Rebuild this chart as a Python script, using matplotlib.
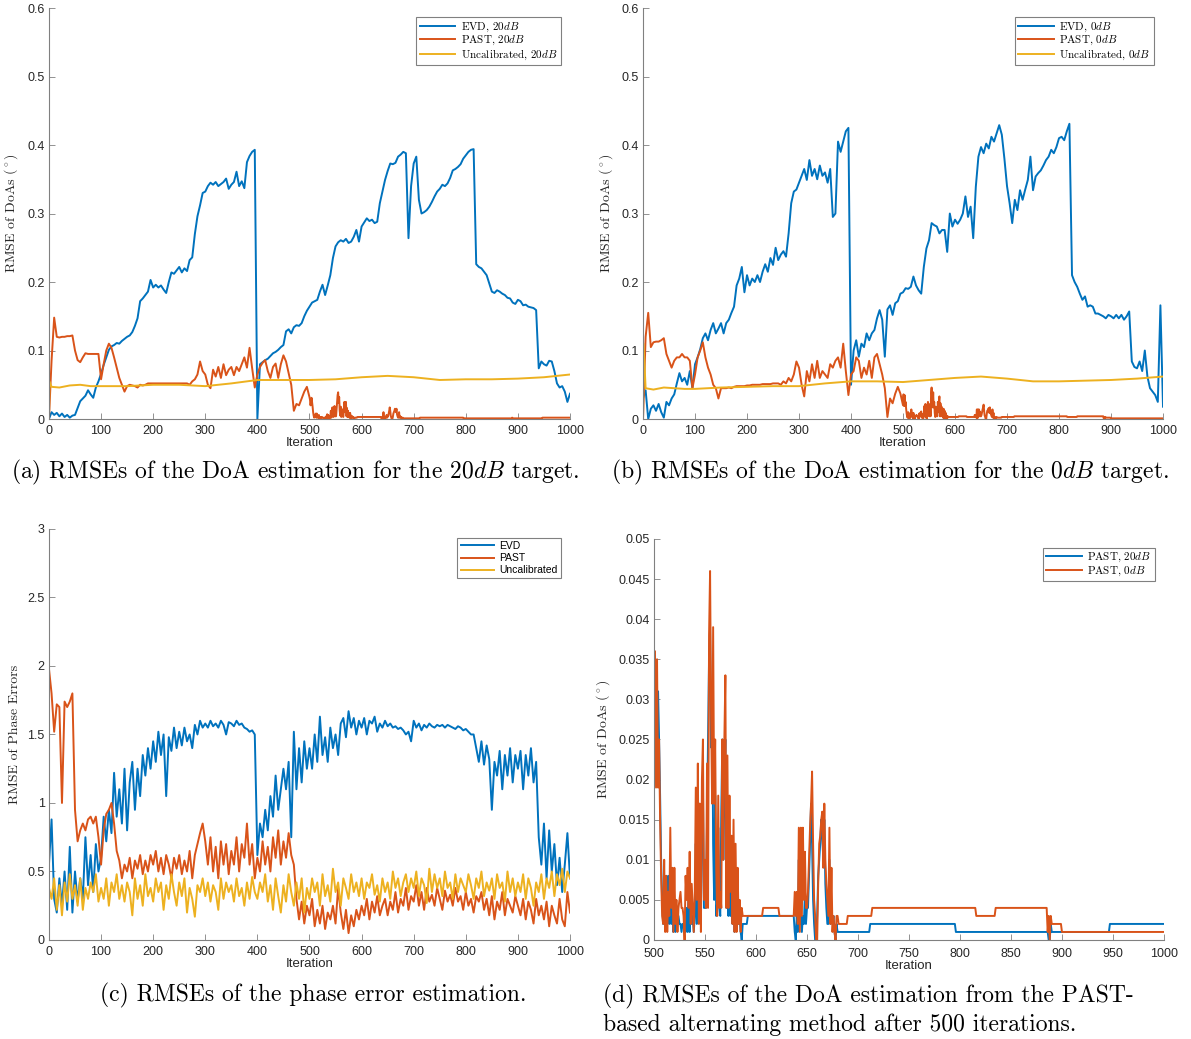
# RMSE curves of the DoA / phase error estimation, four panels with captions

import numpy as np
import matplotlib
matplotlib.use('Agg')
import matplotlib.pyplot as plt
from matplotlib.ticker import FuncFormatter

plt.rcParams['font.family'] = 'Liberation Sans'
plt.rcParams['mathtext.fontset'] = 'cm'

# matlab default colours
blue = '#0072BD'
red = '#D95319'
yellow = '#EDB120'

# ---------------- data ----------------
# iterations 0, 5, ..., 1000 (one row = 50 iterations)
iters = np.arange(0, 1001, 5)

evd_20db = [
    0.000, 0.010, 0.006, 0.009, 0.004, 0.008, 0.003, 0.006, 0.002, 0.005,
    0.006, 0.016, 0.026, 0.030, 0.034, 0.042, 0.036, 0.031, 0.046, 0.055,
    0.066, 0.079, 0.090, 0.101, 0.106, 0.108, 0.111, 0.110, 0.114, 0.117,
    0.120, 0.122, 0.127, 0.136, 0.147, 0.172, 0.176, 0.181, 0.186, 0.203,
    0.192, 0.196, 0.192, 0.195, 0.189, 0.184, 0.200, 0.214, 0.212, 0.217,
    0.222, 0.214, 0.220, 0.216, 0.232, 0.236, 0.270, 0.296, 0.312, 0.330,
    0.332, 0.340, 0.345, 0.342, 0.346, 0.340, 0.343, 0.346, 0.351, 0.336,
    0.342, 0.346, 0.361, 0.340, 0.347, 0.337, 0.375, 0.384, 0.390, 0.393,
    0.000, 0.080, 0.083, 0.086, 0.088, 0.092, 0.096, 0.098, 0.101, 0.105,
    0.108, 0.128, 0.131, 0.125, 0.134, 0.137, 0.136, 0.140, 0.150, 0.158,
    0.164, 0.170, 0.172, 0.174, 0.186, 0.196, 0.181, 0.195, 0.210, 0.235,
    0.252, 0.258, 0.261, 0.259, 0.263, 0.257, 0.259, 0.266, 0.276, 0.259,
    0.281, 0.287, 0.293, 0.289, 0.291, 0.286, 0.288, 0.315, 0.332, 0.349,
    0.362, 0.373, 0.372, 0.374, 0.383, 0.386, 0.390, 0.388, 0.264, 0.340,
    0.373, 0.383, 0.320, 0.300, 0.302, 0.305, 0.310, 0.317, 0.325, 0.332,
    0.336, 0.342, 0.340, 0.344, 0.352, 0.363, 0.365, 0.368, 0.372, 0.380,
    0.385, 0.390, 0.393, 0.394, 0.226, 0.222, 0.220, 0.215, 0.210, 0.198,
    0.186, 0.184, 0.188, 0.186, 0.183, 0.181, 0.177, 0.176, 0.170, 0.168,
    0.174, 0.172, 0.166, 0.167, 0.164, 0.163, 0.162, 0.159, 0.074, 0.084,
    0.080, 0.078, 0.085, 0.084, 0.070, 0.052, 0.046, 0.048, 0.040, 0.025,
    0.037]

evd_0db = [
    0.030, 0.042, 0.000, 0.015, 0.020, 0.012, 0.022, 0.010, 0.002, 0.025,
    0.020, 0.030, 0.036, 0.052, 0.067, 0.055, 0.060, 0.050, 0.070, 0.045,
    0.080, 0.090, 0.102, 0.118, 0.125, 0.115, 0.130, 0.140, 0.125, 0.132,
    0.140, 0.125, 0.140, 0.145, 0.155, 0.164, 0.195, 0.205, 0.222, 0.185,
    0.210, 0.195, 0.205, 0.200, 0.210, 0.200, 0.215, 0.226, 0.215, 0.235,
    0.225, 0.250, 0.232, 0.240, 0.245, 0.237, 0.271, 0.315, 0.332, 0.335,
    0.345, 0.355, 0.365, 0.349, 0.378, 0.355, 0.365, 0.350, 0.370, 0.355,
    0.360, 0.345, 0.365, 0.295, 0.300, 0.405, 0.390, 0.405, 0.420, 0.425,
    0.050, 0.100, 0.115, 0.091, 0.110, 0.105, 0.125, 0.115, 0.125, 0.130,
    0.147, 0.159, 0.145, 0.091, 0.160, 0.166, 0.152, 0.169, 0.172, 0.183,
    0.185, 0.191, 0.190, 0.193, 0.208, 0.195, 0.188, 0.183, 0.222, 0.249,
    0.261, 0.286, 0.283, 0.281, 0.271, 0.276, 0.276, 0.244, 0.300, 0.281,
    0.291, 0.285, 0.291, 0.300, 0.325, 0.295, 0.310, 0.264, 0.339, 0.383,
    0.397, 0.388, 0.402, 0.395, 0.412, 0.405, 0.417, 0.429, 0.415, 0.380,
    0.340, 0.315, 0.286, 0.320, 0.305, 0.334, 0.320, 0.335, 0.349, 0.383,
    0.334, 0.354, 0.359, 0.363, 0.370, 0.378, 0.383, 0.393, 0.388, 0.397,
    0.410, 0.412, 0.407, 0.420, 0.431, 0.210, 0.200, 0.193, 0.183, 0.174,
    0.179, 0.164, 0.166, 0.164, 0.154, 0.154, 0.152, 0.150, 0.147, 0.152,
    0.150, 0.147, 0.152, 0.147, 0.152, 0.145, 0.150, 0.157, 0.084, 0.076,
    0.074, 0.084, 0.070, 0.100, 0.062, 0.045, 0.040, 0.035, 0.025, 0.166,
    0.018]

# PAST, iterations 0..495 (step 5); the rest comes from panel (d)
past_20db_early = [
    0.000, 0.085, 0.148, 0.120, 0.119, 0.120, 0.120, 0.121, 0.121, 0.122,
    0.100, 0.086, 0.083, 0.090, 0.096, 0.095, 0.095, 0.095, 0.095, 0.095,
    0.058, 0.080, 0.100, 0.110, 0.104, 0.090, 0.075, 0.060, 0.050, 0.040,
    0.048, 0.050, 0.049, 0.048, 0.046, 0.050, 0.049, 0.050, 0.052, 0.052,
    0.052, 0.052, 0.052, 0.052, 0.052, 0.052, 0.052, 0.052, 0.052, 0.052,
    0.052, 0.052, 0.052, 0.052, 0.050, 0.055, 0.058, 0.065, 0.084, 0.070,
    0.065, 0.050, 0.045, 0.072, 0.062, 0.076, 0.060, 0.080, 0.064, 0.072,
    0.076, 0.064, 0.076, 0.070, 0.080, 0.090, 0.075, 0.104, 0.074, 0.046,
    0.065, 0.076, 0.082, 0.086, 0.070, 0.060, 0.076, 0.081, 0.060, 0.080,
    0.093, 0.084, 0.067, 0.050, 0.012, 0.022, 0.020, 0.030, 0.040, 0.047]

past_0db_early = [
    0.000, 0.120, 0.155, 0.105, 0.112, 0.113, 0.113, 0.115, 0.118, 0.095,
    0.085, 0.075, 0.085, 0.090, 0.090, 0.095, 0.090, 0.090, 0.085, 0.045,
    0.065, 0.090, 0.100, 0.112, 0.090, 0.075, 0.065, 0.050, 0.045, 0.030,
    0.045, 0.045, 0.045, 0.046, 0.045, 0.047, 0.048, 0.048, 0.048, 0.048,
    0.049, 0.049, 0.050, 0.050, 0.050, 0.050, 0.051, 0.051, 0.051, 0.051,
    0.052, 0.052, 0.052, 0.050, 0.055, 0.052, 0.060, 0.055, 0.065, 0.084,
    0.075, 0.050, 0.033, 0.070, 0.055, 0.080, 0.060, 0.085, 0.060, 0.070,
    0.065, 0.060, 0.080, 0.075, 0.085, 0.090, 0.075, 0.110, 0.070, 0.035,
    0.065, 0.070, 0.090, 0.085, 0.060, 0.075, 0.065, 0.085, 0.060, 0.090,
    0.095, 0.080, 0.065, 0.045, 0.003, 0.030, 0.023, 0.037, 0.047, 0.037]

# uncalibrated curves are smooth, so fewer points
uncal_iters = [0, 1, 5, 20, 40, 60, 80, 100, 150, 200, 250, 300, 350, 400,
               450, 500, 550, 600, 650, 700, 750, 800, 850, 900, 950, 1000]
uncal_20db = [0.000, 0.055, 0.047, 0.046, 0.049, 0.050, 0.048, 0.048, 0.048,
              0.050, 0.050, 0.048, 0.052, 0.057, 0.057, 0.057, 0.058, 0.061,
              0.063, 0.061, 0.057, 0.058, 0.058, 0.059, 0.061, 0.065]
uncal_0db = [0.000, 0.110, 0.045, 0.043, 0.046, 0.045, 0.044, 0.044, 0.046,
             0.047, 0.048, 0.048, 0.052, 0.055, 0.055, 0.054, 0.057, 0.060,
             0.062, 0.059, 0.055, 0.055, 0.056, 0.057, 0.059, 0.062]

# phase errors, iterations 0, 5, ..., 1000
phase_evd = [
    0.55, 0.88, 0.30, 0.20, 0.45, 0.25, 0.50, 0.22, 0.68, 0.20,
    0.50, 0.28, 0.45, 0.30, 0.75, 0.40, 0.62, 0.35, 0.70, 0.50,
    0.60, 0.90, 0.72, 0.95, 0.78, 1.22, 0.90, 1.10, 0.85, 1.25,
    0.80, 1.15, 1.30, 0.95, 1.25, 1.05, 1.35, 1.20, 1.40, 1.25,
    1.45, 1.30, 1.52, 1.35, 1.50, 1.05, 1.48, 1.38, 1.55, 1.40,
    1.52, 1.42, 1.55, 1.45, 1.50, 1.40, 1.57, 1.50, 1.60, 1.55,
    1.58, 1.55, 1.60, 1.56, 1.58, 1.55, 1.60, 1.57, 1.50, 1.59,
    1.58, 1.56, 1.60, 1.57, 1.58, 1.55, 1.54, 1.52, 1.53, 1.50,
    0.62, 0.85, 0.75, 0.95, 0.80, 1.05, 0.90, 1.20, 0.95, 1.10,
    1.25, 1.10, 1.30, 0.75, 1.52, 1.10, 1.40, 1.15, 1.45, 1.25,
    1.40, 1.25, 1.50, 1.30, 1.63, 1.35, 1.48, 1.30, 1.55, 1.40,
    1.50, 1.35, 1.58, 1.62, 1.48, 1.67, 1.55, 1.62, 1.50, 1.60,
    1.55, 1.62, 1.50, 1.60, 1.58, 1.63, 1.52, 1.58, 1.55, 1.60,
    1.56, 1.58, 1.55, 1.56, 1.54, 1.55, 1.53, 1.50, 1.52, 1.45,
    1.60, 1.55, 1.58, 1.53, 1.57, 1.55, 1.58, 1.56, 1.55, 1.57,
    1.56, 1.57, 1.55, 1.57, 1.56, 1.55, 1.54, 1.56, 1.55, 1.53,
    1.54, 1.52, 1.50, 1.50, 1.40, 1.30, 1.45, 1.28, 1.42, 1.32,
    0.95, 1.30, 1.20, 1.38, 1.10, 1.35, 1.20, 1.40, 1.15, 1.35,
    1.25, 1.38, 1.10, 1.35, 1.20, 1.40, 1.15, 1.30, 0.75, 0.55,
    0.85, 0.45, 0.80, 0.50, 0.70, 0.40, 0.60, 0.35, 0.55, 0.78,
    0.45]

phase_past = [
    1.98, 1.80, 1.52, 1.72, 1.70, 1.00, 1.74, 1.70, 1.74, 1.80,
    0.95, 0.72, 0.80, 0.85, 0.80, 0.88, 0.90, 0.85, 0.90, 0.75,
    0.55, 0.80, 0.92, 0.95, 1.00, 0.85, 0.65, 0.58, 0.45, 0.55,
    0.50, 0.60, 0.45, 0.58, 0.52, 0.62, 0.48, 0.58, 0.50, 0.62,
    0.55, 0.65, 0.50, 0.60, 0.48, 0.62, 0.55, 0.45, 0.60, 0.52,
    0.62, 0.48, 0.58, 0.50, 0.65, 0.45, 0.62, 0.70, 0.78, 0.85,
    0.72, 0.55, 0.75, 0.50, 0.68, 0.45, 0.72, 0.55, 0.70, 0.48,
    0.65, 0.55, 0.75, 0.50, 0.70, 0.60, 0.85, 0.55, 0.70, 0.45,
    0.60, 0.50, 0.72, 0.55, 0.68, 0.50, 0.75, 0.60, 0.80, 0.55,
    0.72, 0.60, 0.78, 0.62, 0.55, 0.30, 0.15, 0.28, 0.12, 0.25,
    0.18, 0.30, 0.10, 0.22, 0.12, 0.25, 0.08, 0.20, 0.15, 0.25,
    0.12, 0.38, 0.20, 0.08, 0.22, 0.05, 0.18, 0.10, 0.22, 0.15,
    0.25, 0.18, 0.30, 0.15, 0.28, 0.20, 0.32, 0.18, 0.25, 0.30,
    0.18, 0.28, 0.22, 0.35, 0.20, 0.30, 0.25, 0.38, 0.22, 0.32,
    0.28, 0.40, 0.25, 0.35, 0.22, 0.38, 0.28, 0.33, 0.25, 0.38,
    0.30, 0.22, 0.36, 0.28, 0.33, 0.25, 0.38, 0.28, 0.32, 0.22,
    0.35, 0.25, 0.30, 0.20, 0.32, 0.28, 0.35, 0.22, 0.30, 0.18,
    0.32, 0.15, 0.28, 0.22, 0.35, 0.18, 0.30, 0.25, 0.20, 0.32,
    0.25, 0.18, 0.30, 0.15, 0.28, 0.22, 0.12, 0.30, 0.18, 0.25,
    0.15, 0.28, 0.10, 0.25, 0.18, 0.12, 0.30, 0.15, 0.10, 0.35,
    0.20]

phase_uncal = [
    0.38, 0.30, 0.45, 0.22, 0.40, 0.18, 0.42, 0.28, 0.48, 0.30,
    0.40, 0.25, 0.45, 0.22, 0.38, 0.30, 0.42, 0.35, 0.48, 0.28,
    0.38, 0.30, 0.45, 0.25, 0.42, 0.35, 0.48, 0.30, 0.40, 0.28,
    0.42, 0.35, 0.18, 0.45, 0.30, 0.40, 0.25, 0.48, 0.32, 0.38,
    0.28, 0.45, 0.35, 0.42, 0.22, 0.40, 0.30, 0.48, 0.35, 0.25,
    0.42, 0.32, 0.45, 0.20, 0.38, 0.30, 0.17, 0.40, 0.35, 0.45,
    0.32, 0.42, 0.28, 0.40, 0.35, 0.22, 0.45, 0.30, 0.42, 0.35,
    0.40, 0.28, 0.45, 0.32, 0.38, 0.25, 0.42, 0.30, 0.46, 0.35,
    0.30, 0.42, 0.35, 0.48, 0.28, 0.40, 0.22, 0.45, 0.32, 0.20,
    0.40, 0.28, 0.48, 0.35, 0.25, 0.42, 0.30, 0.45, 0.20, 0.38,
    0.30, 0.45, 0.35, 0.42, 0.25, 0.48, 0.32, 0.40, 0.28, 0.52,
    0.35, 0.42, 0.25, 0.45, 0.38, 0.30, 0.48, 0.35, 0.42, 0.32,
    0.45, 0.30, 0.42, 0.38, 0.48, 0.33, 0.40, 0.28, 0.45, 0.35,
    0.42, 0.30, 0.50, 0.38, 0.45, 0.32, 0.42, 0.48, 0.35, 0.45,
    0.38, 0.50, 0.32, 0.45, 0.40, 0.27, 0.52, 0.35, 0.48, 0.38,
    0.45, 0.32, 0.50, 0.38, 0.42, 0.30, 0.48, 0.35, 0.45, 0.40,
    0.35, 0.48, 0.40, 0.30, 0.45, 0.38, 0.50, 0.32, 0.42, 0.36,
    0.45, 0.30, 0.48, 0.38, 0.42, 0.28, 0.50, 0.35, 0.45, 0.32,
    0.42, 0.35, 0.48, 0.30, 0.45, 0.38, 0.25, 0.42, 0.35, 0.48,
    0.30, 0.45, 0.38, 0.50, 0.32, 0.48, 0.40, 0.52, 0.35, 0.50,
    0.45]

# PAST after 500 iterations (line vertices)
late_20db_iters = np.r_[500:593, 637:682, 711, 712, 795, 796, 886, 887, 888,
                        889, 890, 946, 947, 1000]
late_20db = [
    0.032, 0.028, 0.020, 0.026, 0.031, 0.025, 0.018, 0.010, 0.005, 0.002,
    0.004, 0.003, 0.008, 0.002, 0.008, 0.002, 0.004, 0.002, 0.006, 0.001,
    0.003, 0.001, 0.003, 0.002, 0.003, 0.002, 0.002, 0.001, 0.002, 0.002,
    0.002, 0.001, 0.004, 0.001, 0.007, 0.001, 0.006, 0.002, 0.003, 0.001,
    0.003, 0.012, 0.002, 0.010, 0.017, 0.008, 0.003, 0.015, 0.019, 0.004,
    0.004, 0.004, 0.015, 0.025, 0.035, 0.039, 0.024, 0.032, 0.012, 0.005,
    0.018, 0.003, 0.005, 0.014, 0.004, 0.003, 0.016, 0.025, 0.010, 0.020,
    0.025, 0.004, 0.016, 0.003, 0.012, 0.003, 0.008, 0.002, 0.009, 0.001,
    0.005, 0.002, 0.004, 0.002, 0.003, 0.001, 0.000, 0.002, 0.002, 0.002,
    0.002, 0.002, 0.003,
    0.003,
    0.001, 0.000, 0.003, 0.001, 0.010, 0.002, 0.003, 0.001, 0.003, 0.002,
    0.006, 0.002, 0.004, 0.004, 0.008, 0.012, 0.017, 0.012, 0.005, 0.002,
    0.000, 0.000, 0.003, 0.008, 0.010, 0.012, 0.015, 0.013, 0.010, 0.015,
    0.007, 0.004, 0.002, 0.002, 0.010, 0.002, 0.004, 0.002, 0.003, 0.001,
    0.000, 0.002, 0.001, 0.001,
    0.001, 0.002, 0.002, 0.001, 0.001, 0.000, 0.000, 0.002, 0.001, 0.001,
    0.002, 0.002]

late_0db_iters = np.r_[500:593, 606, 607, 622, 623, 637:682, 689, 690, 713,
                       714, 815, 816, 834, 835, 885, 886, 887, 888, 889, 890,
                       899, 900, 1000]
late_0db = [
    0.020, 0.036, 0.019, 0.035, 0.019, 0.025, 0.015, 0.008, 0.003, 0.002,
    0.010, 0.001, 0.008, 0.001, 0.006, 0.003, 0.014, 0.004, 0.009, 0.001,
    0.009, 0.002, 0.005, 0.001, 0.004, 0.005, 0.006, 0.004, 0.004, 0.003,
    0.000, 0.008, 0.005, 0.009, 0.004, 0.011, 0.002, 0.007, 0.004, 0.001,
    0.006, 0.019, 0.005, 0.022, 0.002, 0.017, 0.001, 0.020, 0.025, 0.005,
    0.010, 0.004, 0.022, 0.004, 0.038, 0.046, 0.028, 0.017, 0.039, 0.017,
    0.025, 0.009, 0.003, 0.018, 0.004, 0.006, 0.004, 0.025, 0.010, 0.025,
    0.033, 0.004, 0.023, 0.004, 0.018, 0.006, 0.013, 0.002, 0.015, 0.001,
    0.012, 0.001, 0.009, 0.002, 0.005, 0.001, 0.004, 0.003, 0.003, 0.003,
    0.003, 0.003, 0.003,
    0.003, 0.004, 0.004, 0.003,
    0.003,
    0.006, 0.003, 0.006, 0.002, 0.014, 0.001, 0.014, 0.003, 0.014, 0.005,
    0.011, 0.004, 0.004, 0.006, 0.010, 0.014, 0.017, 0.021, 0.012, 0.005,
    0.003, 0.000, 0.000, 0.007, 0.012, 0.013, 0.015, 0.016, 0.009, 0.017,
    0.010, 0.007, 0.005, 0.003, 0.014, 0.002, 0.009, 0.001, 0.003, 0.001,
    0.000, 0.003, 0.003, 0.002,
    0.002, 0.003, 0.003, 0.004, 0.004, 0.003, 0.003, 0.004, 0.004, 0.001,
    0.003, 0.000, 0.003, 0.002, 0.002, 0.001, 0.001]

past_20db_iters = np.concatenate([iters[:100], late_20db_iters])
past_20db = past_20db_early + late_20db
past_0db_iters = np.concatenate([iters[:100], late_0db_iters])
past_0db = past_0db_early + late_0db

captions = ['(a) RMSEs of the DoA estimation for the 20$dB$ target.',
            '(b) RMSEs of the DoA estimation for the 0$dB$ target.',
            '(c) RMSEs of the phase error estimation.',
            '(d) RMSEs of the DoA estimation from the PAST-\n'
            'based alternating method after 500 iterations.']

# ---------------- figure ----------------
fig = plt.figure(figsize=(11.91, 10.39), dpi=100)
ax_a = fig.add_axes([0.0411, 0.5967, 0.4375, 0.3956])
ax_b = fig.add_axes([0.5399, 0.5967, 0.4366, 0.3956])
ax_c = fig.add_axes([0.0411, 0.0953, 0.4375, 0.3956])
ax_d = fig.add_axes([0.5491, 0.0953, 0.4282, 0.3860])

fmt = FuncFormatter(lambda v, p: '%g' % v)
lw = 1.4


def matlab_style(ax, xlim, ylim, xticks, yticks, ylabel):
    ax.set_xlim(xlim)
    ax.set_ylim(ylim)
    ax.set_xticks(xticks)
    ax.set_yticks(yticks)
    ax.xaxis.set_major_formatter(fmt)
    ax.yaxis.set_major_formatter(fmt)
    for s in ['top', 'right']:
        ax.spines[s].set_visible(False)
    for s in ['left', 'bottom']:
        ax.spines[s].set_color('#808080')
        ax.spines[s].set_linewidth(0.8)
    ax.tick_params(direction='in', length=4, width=0.6, color='#808080',
                   labelsize=9, labelcolor='#262626', pad=3)
    ax.tick_params(axis='x', pad=4)
    ax.set_xlabel('Iteration', fontsize=9.5, color='#262626', labelpad=0)
    ax.set_ylabel(ylabel, fontsize=10, family='cmr10', color='#262626', labelpad=5)


def matlab_legend(ax, serif):
    if serif:
        prop = {'family': 'cmr10', 'size': 8}
        spacing = 0.02
    else:
        prop = {'family': 'Liberation Sans', 'size': 7.5}
        spacing = 0.2
    leg = ax.legend(loc='upper right', bbox_to_anchor=(0.982, 0.978),
                    borderaxespad=0, prop=prop, fancybox=False, framealpha=1,
                    edgecolor='#808080', handlelength=3.2, handletextpad=0.5,
                    labelspacing=spacing, borderpad=0.3)
    leg.get_frame().set_linewidth(0.8)


# (a) 20dB
ax_a.plot(iters, evd_20db, color=blue, lw=lw, label='EVD, 20$dB$')
ax_a.plot(past_20db_iters, past_20db, color=red, lw=lw, label='PAST, 20$dB$')
ax_a.plot(uncal_iters, uncal_20db, color=yellow, lw=lw, label='Uncalibrated, 20$dB$')
matlab_style(ax_a, [0, 1000], [0, 0.6], np.arange(0, 1001, 100),
             np.linspace(0, 0.6, 7), r'RMSE of DoAs ($^\circ$)')
matlab_legend(ax_a, True)

# (b) 0dB
ax_b.plot(iters, evd_0db, color=blue, lw=lw, label='EVD, 0$dB$')
ax_b.plot(past_0db_iters, past_0db, color=red, lw=lw, label='PAST, 0$dB$')
ax_b.plot(uncal_iters, uncal_0db, color=yellow, lw=lw, label='Uncalibrated, 0$dB$')
matlab_style(ax_b, [0, 1000], [0, 0.6], np.arange(0, 1001, 100),
             np.linspace(0, 0.6, 7), r'RMSE of DoAs ($^\circ$)')
matlab_legend(ax_b, True)

# (c) phase errors
ax_c.plot(iters, phase_evd, color=blue, lw=lw, label='EVD')
ax_c.plot(iters, phase_past, color=red, lw=lw, label='PAST')
ax_c.plot(iters, phase_uncal, color=yellow, lw=lw, label='Uncalibrated')
matlab_style(ax_c, [0, 1000], [0, 3], np.arange(0, 1001, 100),
             np.linspace(0, 3, 7), 'RMSE of Phase Errors')
matlab_legend(ax_c, False)

# (d) PAST after 500 iterations
ax_d.plot(late_20db_iters, late_20db, color=blue, lw=lw, label='PAST, 20$dB$')
ax_d.plot(late_0db_iters, late_0db, color=red, lw=lw, label='PAST, 0$dB$')
matlab_style(ax_d, [500, 1000], [0, 0.05], np.arange(500, 1001, 50),
             np.linspace(0, 0.05, 11), r'RMSE of DoAs ($^\circ$)')
ax_d.tick_params(axis='x', pad=6)
matlab_legend(ax_d, True)

# captions
cap_size = 17
fig.text(0.2477, 1 - 472 / 1039, captions[0], ha='center', va='center',
         family='cmr10', fontsize=cap_size)
fig.text(0.7473, 1 - 472 / 1039, captions[1], ha='center', va='center',
         family='cmr10', fontsize=cap_size)
fig.text(0.2628, 1 - 995 / 1039, captions[2], ha='center', va='center',
         family='cmr10', fontsize=cap_size)
fig.text(0.5063, 1 - 1010 / 1039, captions[3], ha='left', va='center',
         family='cmr10', fontsize=cap_size, linespacing=1.25)

fig.savefig('out.png', dpi=100)
